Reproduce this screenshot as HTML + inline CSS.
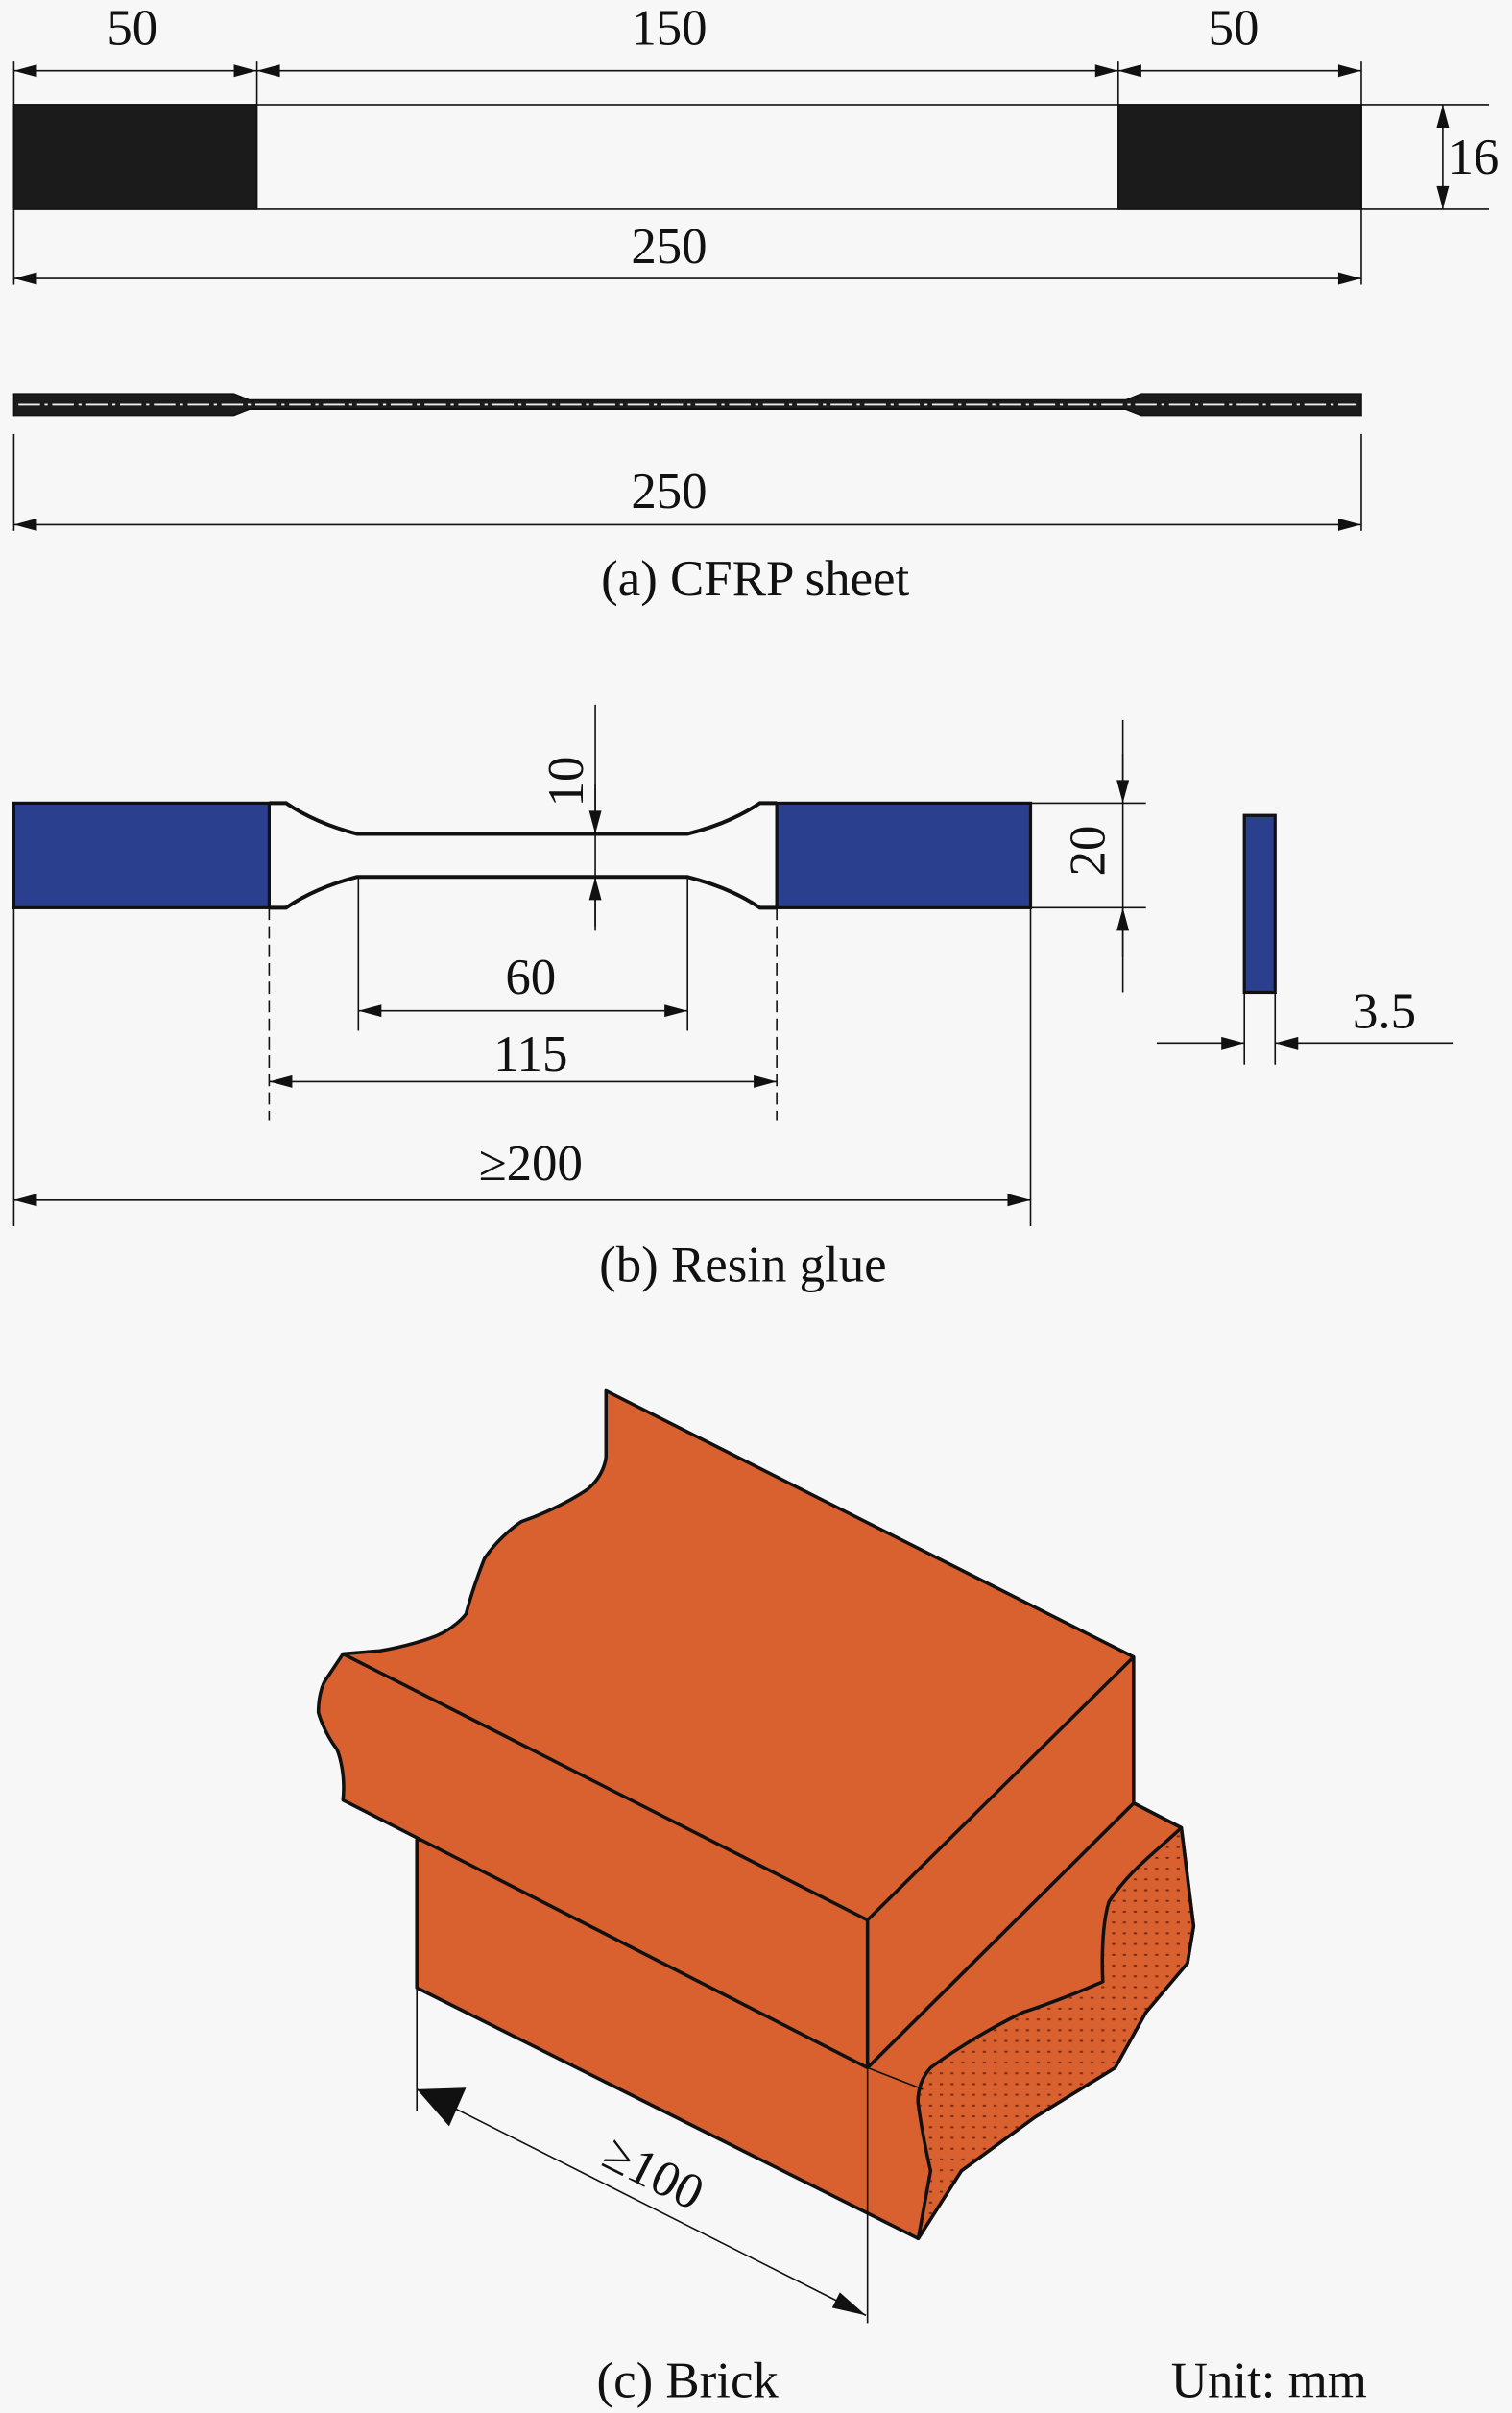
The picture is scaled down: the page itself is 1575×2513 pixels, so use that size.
<!DOCTYPE html>
<html><head><meta charset="utf-8"><style>
html,body{margin:0;padding:0;background:#f7f7f7;}
svg{display:block;}
text{font-family:"Liberation Serif",serif;fill:#111;}
</style></head><body>
<svg width="1575" height="2513" viewBox="0 0 983 1568.4" xmlns="http://www.w3.org/2000/svg">
<defs>
<marker id="a" viewBox="0 0 10 6" refX="10" refY="3" markerWidth="24" markerHeight="9" markerUnits="userSpaceOnUse" orient="auto-start-reverse"><path d="M0,0.3 L10,3 L0,5.7 z" fill="#111"/></marker>
<pattern id="dots" width="7" height="7" patternUnits="userSpaceOnUse"><rect width="7" height="7" fill="#d9602f"/><rect x="2" y="3" width="2" height="1.2" fill="#7a2a10"/></pattern>
</defs>
<rect width="983" height="1568.4" fill="#f7f7f7"/>
<g stroke="#111" stroke-width="1" fill="none">
<!-- (a) -->
<rect x="9" y="68" width="876" height="68" fill="#f7f7f7"/>
<rect x="9" y="68" width="158" height="68" fill="#1b1b1b"/>
<rect x="727" y="68" width="158" height="68" fill="#1b1b1b"/>
<line x1="9" y1="40" x2="9" y2="185"/><line x1="167" y1="40" x2="167" y2="68"/>
<line x1="727" y1="40" x2="727" y2="68"/><line x1="885" y1="40" x2="885" y2="185"/>
<line x1="9" y1="46" x2="167" y2="46" marker-start="url(#a)" marker-end="url(#a)"/>
<line x1="167" y1="46" x2="727" y2="46" marker-start="url(#a)" marker-end="url(#a)"/>
<line x1="727" y1="46" x2="885" y2="46" marker-start="url(#a)" marker-end="url(#a)"/>
<line x1="885" y1="68" x2="968" y2="68"/><line x1="885" y1="136" x2="968" y2="136"/>
<line x1="938" y1="68" x2="938" y2="136" marker-start="url(#a)" marker-end="url(#a)"/>
<line x1="9" y1="181" x2="885" y2="181" marker-start="url(#a)" marker-end="url(#a)"/>
<path d="M9,256 L152,256 L162,260 L732,260 L742,256 L885,256 L885,270 L742,270 L732,266 L162,266 L152,270 L9,270 Z" fill="#1b1b1b"/>
<line x1="12" y1="263" x2="882" y2="263" stroke="#eee" stroke-width="1.2" stroke-dasharray="14,3,2,3"/>
<line x1="9" y1="282" x2="9" y2="345"/><line x1="885" y1="282" x2="885" y2="345"/>
<line x1="9" y1="341" x2="885" y2="341" marker-start="url(#a)" marker-end="url(#a)"/>
<!-- (b) -->
<rect x="9" y="522" width="166" height="68" fill="#2b3f8f" stroke-width="2"/>
<rect x="505" y="522" width="165" height="68" fill="#2b3f8f" stroke-width="2"/>
<path d="M175,522 L186,522 Q205,535 232,542 L447,542 Q475,535 494,522 L505,522" stroke-width="2.5"/>
<path d="M175,590 L186,590 Q205,577 232,570 L447,570 Q475,577 494,590 L505,590" stroke-width="2.5"/>
<line x1="175" y1="590" x2="175" y2="728" stroke-dasharray="8,4"/>
<line x1="505" y1="590" x2="505" y2="728" stroke-dasharray="8,4"/>
<line x1="233" y1="570" x2="233" y2="670"/><line x1="447" y1="570" x2="447" y2="670"/>
<line x1="233" y1="657" x2="447" y2="657" marker-start="url(#a)" marker-end="url(#a)"/>
<line x1="175" y1="703" x2="505" y2="703" marker-start="url(#a)" marker-end="url(#a)"/>
<line x1="9" y1="590" x2="9" y2="797"/><line x1="670" y1="590" x2="670" y2="797"/>
<line x1="9" y1="780" x2="670" y2="780" marker-start="url(#a)" marker-end="url(#a)"/>
<line x1="387" y1="458" x2="387" y2="605"/>
<line x1="387" y1="510" x2="387" y2="542" marker-end="url(#a)"/>
<line x1="387" y1="602" x2="387" y2="570" marker-end="url(#a)"/>
<line x1="670" y1="522" x2="745" y2="522"/><line x1="670" y1="590" x2="745" y2="590"/>
<line x1="730" y1="468" x2="730" y2="645"/>
<line x1="730" y1="490" x2="730" y2="522" marker-end="url(#a)"/>
<line x1="730" y1="622" x2="730" y2="590" marker-end="url(#a)"/>
<rect x="809" y="530" width="20" height="115" fill="#2b3f8f" stroke-width="2"/>
<line x1="809" y1="645" x2="809" y2="692"/><line x1="829" y1="645" x2="829" y2="692"/>
<line x1="752" y1="678" x2="809" y2="678" marker-end="url(#a)"/>
<line x1="945" y1="678" x2="829" y2="678" marker-end="url(#a)"/>
</g>
<!-- (c) brick -->
<g stroke="#111" stroke-width="2.2" stroke-linejoin="round" fill="#d9602f">
<path d="M271,1196 L737,1172 L768,1188 L776,1252 L772,1276 L745,1308 L725,1344 L673,1376 L625,1411 L597,1455 L271,1292 Z"/>
<path d="M768,1188 C750,1205 735,1215 721,1236 C715,1255 717,1288 717,1288 C690,1300 665,1308 665,1308 C630,1325 605,1344 605,1344 C595,1355 597,1368 597,1368 C600,1390 605,1411 605,1411 L597,1455 L625,1411 L673,1376 L725,1344 L745,1308 L772,1276 L776,1252 Z" fill="url(#dots)"/>
<path d="M564,1344 L737,1172 L768,1188" fill="none"/>
<path d="M394,904 L737,1077 L737,1172 L564,1344 L223,1170 C225,1150 219,1137 219,1137 C210,1125 207,1113 207,1113 C207,1100 211,1093 211,1093 L223,1075 C235,1074 247,1073 247,1073 C265,1070 279,1065 279,1065 C295,1060 303,1049 303,1049 C308,1030 315,1013 315,1013 C325,998 339,989 339,989 C365,980 382,968 382,968 C394,958 394,946 394,946 Z"/>
<path d="M223,1075 L564,1248 L737,1077" fill="none"/>
<line x1="564" y1="1248" x2="564" y2="1344"/>
</g>
<g stroke="#111" stroke-width="1" fill="none">
<line x1="564" y1="1344" x2="600" y2="1358"/>
<line x1="271" y1="1292" x2="271" y2="1372"/>
<line x1="564" y1="1344" x2="564" y2="1510"/>
<line x1="271" y1="1358" x2="563" y2="1505"/>
</g>
<path d="M271,1358 L303,1357 L292,1382 Z" fill="#111"/>
<path d="M563,1505 L541,1500 L546,1490 Z" fill="#111"/>
<g font-size="33" text-anchor="middle">
<text x="86" y="29">50</text>
<text x="435" y="29">150</text>
<text x="802" y="29">50</text>
<text x="958" y="113">16</text>
<text x="435" y="171">250</text>
<text x="435" y="330">250</text>
<text x="491" y="387">(a) CFRP sheet</text>
<text x="0" y="0" transform="translate(379,508) rotate(-90)">10</text>
<text x="0" y="0" transform="translate(718,553) rotate(-90)">20</text>
<text x="900" y="668">3.5</text>
<text x="345" y="646">60</text>
<text x="345" y="696">115</text>
<text x="345" y="767">≥200</text>
<text x="483" y="833">(b) Resin glue</text>
<text x="0" y="0" transform="translate(420,1422) rotate(26.7)">≥100</text>
<text x="447" y="1558">(c) Brick</text>
<text x="825" y="1558">Unit: mm</text>
</g>
</svg>
</body></html>
